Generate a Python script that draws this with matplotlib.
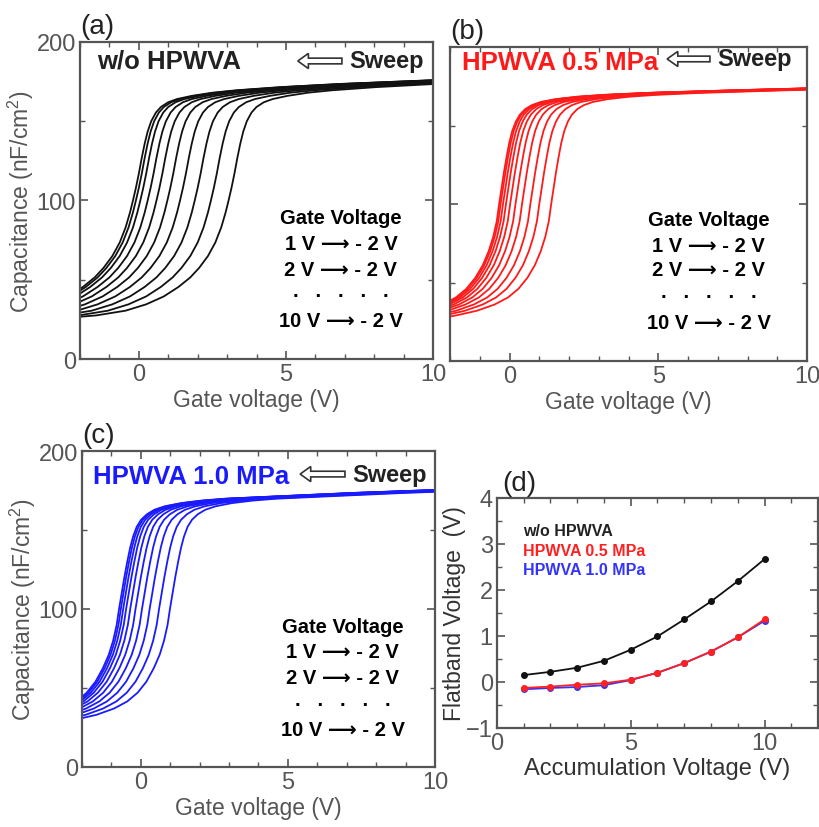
import numpy as np
import matplotlib.pyplot as plt
from matplotlib.patches import FancyArrow

plt.rcParams['font.family'] = ['Liberation Sans', 'DejaVu Sans']
plt.rcParams['mathtext.default'] = 'regular'

# flatband voltage vs accumulation voltage
acc_v = [1, 2, 3, 4, 5, 6, 7, 8, 9, 10]
vfb_wo = [0.15, 0.22, 0.31, 0.46, 0.70, 0.99, 1.36, 1.75, 2.19, 2.67]
vfb_05 = [-0.13, -0.10, -0.06, -0.03, 0.05, 0.20, 0.41, 0.66, 0.97, 1.36]
vfb_10 = [-0.16, -0.13, -0.11, -0.07, 0.04, 0.20, 0.41, 0.66, 0.97, 1.33]

# C-V shape around the mid-point (gate voltage offset, capacitance nF/cm2)
u_a = [-5.5, -4.5, -3.5, -2.8, -2.2, -1.7, -1.3, -1.0, -0.7, -0.45, -0.25, -0.1,
       0, 0.1, 0.2, 0.3, 0.4, 0.5, 0.62, 0.78, 0.95, 1.2, 1.5, 2.0, 2.7, 3.5,
       5, 7, 9, 11, 13]
c_a = [26, 27.5, 30.5, 34.5, 39.5, 45.5, 51.5, 57.5, 65, 73.5, 83, 92.5,
       100, 108, 117, 127, 136, 143.5, 150, 155.5, 159, 162, 164, 166, 168, 169.5,
       171.5, 173.5, 175, 176.5, 178]
u_b = [-5, -4, -3.2, -2.5, -1.9, -1.45, -1.1, -0.8, -0.55, -0.35, -0.2, -0.08,
       0, 0.08, 0.16, 0.25, 0.34, 0.44, 0.56, 0.7, 0.88, 1.1, 1.4, 1.9, 2.6, 3.5,
       5, 8, 11, 13]
c_b = [25, 26.5, 29, 32, 36, 40.5, 46, 53, 61, 70, 79, 89,
       100, 110, 120, 130, 139, 146.5, 152.5, 157, 160.5, 163, 165, 166.8, 168.3, 169.5,
       170.8, 172.5, 174, 175]
u_c = [-5, -4, -3.2, -2.5, -1.9, -1.45, -1.1, -0.8, -0.55, -0.35, -0.2, -0.08,
       0, 0.09, 0.18, 0.28, 0.38, 0.48, 0.6, 0.75, 0.95, 1.2, 1.55, 2.1, 2.8, 3.6,
       5, 8, 11, 13]
c_c = [26, 27.5, 30, 33, 37, 41.5, 47, 54, 62.5, 71, 80, 90,
       100, 110, 120, 130, 139, 146, 152, 156.5, 160, 162.8, 165, 167, 168.6, 169.8,
       171, 173.5, 175.5, 176.5]

# gate voltage where C = 100 nF/cm2, for 1 V ... 10 V accumulation
vmid_a = [-0.2, -0.1, 0.05, 0.3, 0.6, 0.97, 1.4, 1.9, 2.45, 3.05]
vmid_b = [-0.35, -0.3, -0.22, -0.12, 0.02, 0.2, 0.42, 0.7, 1.0, 1.4]
vmid_c = [-0.74, -0.68, -0.6, -0.5, -0.36, -0.18, 0.04, 0.3, 0.62, 0.99]

gate_lines = ['Gate Voltage', '1 V \u27f6 - 2 V', '2 V \u27f6 - 2 V',
              '.   .   .   .   .', '10 V \u27f6 - 2 V']

gray = '#555555'
fig = plt.figure(figsize=(8.19, 8.28), dpi=100)


def style(ax, xlim, ylim, xmaj, xmin, ymaj, ymin):
    ax.set_xlim(*xlim)
    ax.set_ylim(*ylim)
    ax.set_xticks(xmaj)
    ax.set_xticks(xmin, minor=True)
    ax.set_yticks(ymaj)
    ax.set_yticks(ymin, minor=True)
    ax.tick_params(which='both', direction='in', top=True, right=True,
                   color=gray, labelcolor=gray, labelsize=17, pad=3)
    ax.tick_params(which='major', length=6, width=1.2)
    ax.tick_params(which='minor', length=3.5, width=1.0)
    for s in ax.spines.values():
        s.set_color(gray)
        s.set_linewidth(1.6)


def cv_panel(rect, u, c, vmids, color, tag, title, tcolor, arrow, gate_x, gate_y,
             ylabels=True):
    ax = fig.add_axes(rect)
    for vm in vmids:
        ax.plot(np.array(u) + vm, c, color=color, lw=1.3)
    style(ax, (-2, 10), (0, 200), [0, 5, 10], np.arange(-2, 11, 1),
          [0, 100, 200], [50, 150])
    if not ylabels:
        ax.set_yticklabels([])
    else:
        ax.set_ylabel('Capacitance (nF/cm$^{2}$)', fontsize=16.5, color=gray, labelpad=0)
    ax.set_xlabel('Gate voltage (V)', fontsize=16.5, color=gray, labelpad=2)
    ax.text(0.0, 1.01, tag, transform=ax.transAxes, fontsize=20, color='#222222',
            ha='left', va='bottom')
    ax.text(title[0], title[1], title[2], transform=ax.transAxes, fontsize=18.5,
            fontweight='bold', color=tcolor, ha='left', va='center')
    hx, tx, ay = arrow
    ax.add_patch(FancyArrow(tx, ay, hx - tx, 0, width=0.018, head_width=0.048,
                            head_length=0.03, length_includes_head=True,
                            transform=ax.transAxes, fc='white', ec='#333333', lw=1.2))
    ax.text(tx + 0.02, ay, 'Sweep', transform=ax.transAxes, fontsize=17,
            fontweight='bold', color='#222222', ha='left', va='center')
    for txt, yy in zip(gate_lines, gate_y):
        ax.text(gate_x, yy, txt, transform=ax.transAxes, fontsize=14.5,
                fontweight='bold', color='black', ha='center', va='center')
    return ax


cv_panel([0.0977, 0.5652, 0.431, 0.3829], u_a, c_a, vmid_a, '#111111', '(a)',
         (0.048, 0.94, 'w/o HPWVA'), '#222222', (0.617, 0.742, 0.94),
         0.739, [0.445, 0.363, 0.281, 0.215, 0.12])
cv_panel([0.5495, 0.5628, 0.4359, 0.3792], u_b, c_b, vmid_b, '#ff1a1a', '(b)',
         (0.034, 0.952, 'HPWVA 0.5 MPa'), '#ff1a1a', (0.608, 0.728, 0.962),
         0.725, [0.452, 0.369, 0.290, 0.22, 0.124], ylabels=False)
cv_panel([0.1001, 0.0725, 0.431, 0.3816], u_c, c_c, vmid_c, '#1a1aff', '(c)',
         (0.031, 0.921, 'HPWVA 1.0 MPa'), '#1a1aff', (0.618, 0.745, 0.927),
         0.738, [0.446, 0.364, 0.282, 0.213, 0.12])

# (d) flatband voltage
axd = fig.add_axes([0.6068, 0.1196, 0.392, 0.2778])
axd.plot(acc_v, vfb_10, color='#3333ff', lw=1.3, marker='o', ms=4)
axd.plot(acc_v, vfb_05, color='#ff2020', lw=1.3, marker='o', ms=4)
axd.plot(acc_v, vfb_wo, color='#111111', lw=1.3, marker='o', ms=4)
style(axd, (0, 12), (-1, 4), [0, 5, 10], np.arange(0, 13, 1),
      [-1, 0, 1, 2, 3, 4], np.arange(-1, 4.1, 0.5))
axd.set_xlabel('Accumulation Voltage (V)', fontsize=17, color='#333333', labelpad=2)
axd.set_ylabel('Flatband Voltage  (V)', fontsize=16.5, color='#333333', labelpad=0)
axd.text(0.015, 1.01, '(d)', transform=axd.transAxes, fontsize=20, color='#222222',
         ha='left', va='bottom')
for txt, col, yy in [('w/o HPWVA', '#222222', 0.857),
                     ('HPWVA 0.5 MPa', '#ff2020', 0.77),
                     ('HPWVA 1.0 MPa', '#3333ff', 0.691)]:
    axd.text(0.081, yy, txt, transform=axd.transAxes, fontsize=11.5,
             fontweight='bold', color=col, ha='left', va='center')

fig.savefig('out.png', dpi=100)
